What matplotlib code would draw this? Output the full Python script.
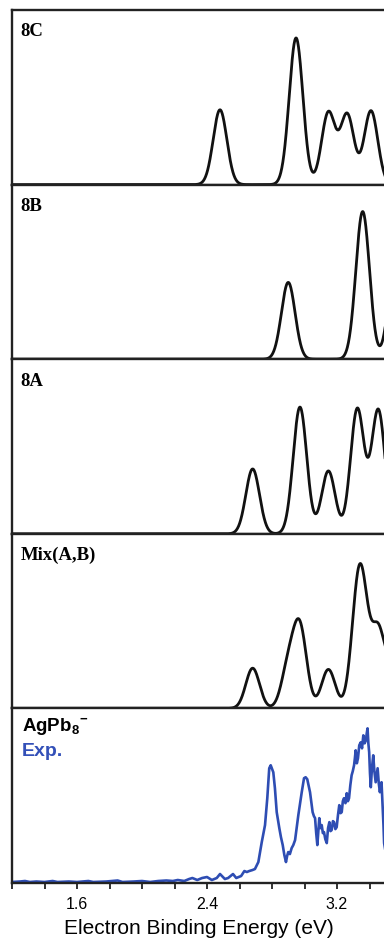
import numpy as np
import matplotlib.pyplot as plt
from matplotlib.ticker import MultipleLocator

plt.rcParams['mathtext.fontset'] = 'custom'
plt.rcParams['mathtext.rm'] = 'Liberation Sans'
plt.rcParams['mathtext.bf'] = 'Liberation Sans:bold'

# simulated spectra: stick positions (eV) and intensities, broadened with gaussians
sigma = 0.042

pos_8c = [2.480, 2.948, 3.147, 3.263, 3.409]
int_8c = [75, 147, 72, 70, 74]

pos_8b = [2.900, 3.358, 3.560]
int_8b = [77, 148, 100]

pos_8a = [2.681, 2.972, 3.147, 3.325, 3.454]
int_8a = [65, 127, 63, 125, 124]

# Mix(A,B) is a weighted sum of the 8A and 8B spectra
mix_weight_a = 0.62
mix_weight_b = 0.52

# experimental spectrum (traced)
exp_x = [1.20, 1.25, 1.28, 1.31, 1.35, 1.40, 1.45, 1.48, 1.55, 1.60, 1.67, 1.70,
         1.78, 1.85, 1.88, 1.95, 2.00, 2.05, 2.10, 2.15, 2.19, 2.22, 2.26, 2.29,
         2.31, 2.34, 2.37, 2.40, 2.43, 2.46, 2.48, 2.51, 2.53, 2.56, 2.58, 2.61,
         2.63, 2.645, 2.66, 2.68, 2.695, 2.716, 2.737, 2.757, 2.771, 2.783, 2.792,
         2.808, 2.818, 2.829, 2.845, 2.855, 2.866, 2.876, 2.886, 2.893, 2.900, 2.910,
         2.921, 2.931, 2.942, 2.962, 2.983, 2.997, 3.007, 3.017, 3.034, 3.050, 3.058,
         3.065, 3.072, 3.079, 3.085, 3.091, 3.098, 3.106, 3.113, 3.120, 3.128, 3.137,
         3.145, 3.153, 3.160, 3.167, 3.175, 3.182, 3.190, 3.198, 3.206, 3.214, 3.222,
         3.229, 3.236, 3.243, 3.252, 3.260, 3.267, 3.274, 3.282, 3.290, 3.297, 3.305,
         3.310, 3.315, 3.322, 3.329, 3.337, 3.346, 3.354, 3.362, 3.370, 3.378, 3.383,
         3.388, 3.393, 3.398, 3.403, 3.408, 3.415, 3.423, 3.430, 3.438, 3.444, 3.450,
         3.457, 3.464, 3.469, 3.474, 3.480, 3.486, 3.490, 3.500]
exp_y = [1, 1.5, 2, 1, 1.5, 1, 2, 1, 1.5, 1, 2, 1,
         1.5, 2.5, 1, 1.5, 2, 1, 2, 2.5, 2, 3, 2, 4,
         5, 3, 5, 6, 3, 5, 9, 4, 5, 9, 5, 7,
         12, 11, 12, 13, 14, 21, 41, 58, 85, 115, 118,
         111, 95, 71, 55, 46, 38, 28, 21, 27, 31, 29,
         35, 38, 43, 68, 91, 105, 106, 104, 91, 71, 67,
         65, 50, 38, 52, 65, 55, 58, 50, 51, 44, 40,
         55, 61, 52, 53, 62, 61, 54, 56, 68, 78, 70,
         71, 82, 85, 80, 90, 82, 85, 98, 108, 112, 118,
         125, 133, 120, 125, 138, 141, 135, 148, 140, 143, 150,
         155, 140, 131, 110, 96, 115, 128, 112, 101, 108, 115,
         100, 91, 98, 101, 80, 58, 40, 30]

ticks_major = [1.6, 2.4, 3.2]
panel_labels = ['8C', '8B', '8A', 'Mix(A,B)']


def broaden(x, pos, inten):
    y = np.zeros_like(x)
    for p, h in zip(pos, inten):
        y += h * np.exp(-(x - p) ** 2 / (2 * sigma ** 2))
    return y


def style_axis(ax):
    ax.set_xlim(1.2, 3.5)
    ax.set_ylim(0, 175)
    ax.set_yticks([])
    for s in ax.spines.values():
        s.set_color('#222222')
        s.set_linewidth(1.7)


def main():
    fig = plt.figure(figsize=(3.84, 9.41), dpi=100)
    left = 12 / 384
    width = 373.75 / 384
    top = 1 - 10 / 941
    h = (873 / 5) / 941

    x = np.linspace(1.2, 3.6, 1500)
    spec_a = broaden(x, pos_8a, int_8a)
    spec_b = broaden(x, pos_8b, int_8b)
    spectra = [broaden(x, pos_8c, int_8c), spec_b, spec_a,
               mix_weight_a * spec_a + mix_weight_b * spec_b]

    for i, y in enumerate(spectra):
        ax = fig.add_axes([left, top - (i + 1) * h, width, h])
        style_axis(ax)
        ax.plot(x, y, color='#111111', lw=2.0)
        ax.set_xticks([])
        ax.text(0.022, 0.875, panel_labels[i], transform=ax.transAxes,
                family='Liberation Serif', weight='bold', size=13.5, va='center')

    # experimental panel
    ax = fig.add_axes([left, top - 5 * h, width, h])
    style_axis(ax)
    ax.plot(exp_x, exp_y, color='#2e4db3', lw=1.9)
    ax.text(0.026, 0.89, r'$\mathbf{AgPb_8}^{\mathbf{-}}$', transform=ax.transAxes,
            size=13.5, va='center')
    ax.text(0.026, 0.755, 'Exp.', transform=ax.transAxes, color='#3350b8',
            family='Liberation Sans', weight='bold', size=14, va='center')
    ax.set_xticks(ticks_major)
    ax.xaxis.set_minor_locator(MultipleLocator(0.2))
    ax.tick_params(axis='x', which='both', direction='out', length=4, width=1.3,
                   color='#222222', labelsize=11.5, pad=6)
    for lbl in ax.get_xticklabels():
        lbl.set_family('Liberation Sans')
    ax.set_xlabel('Electron Binding Energy (eV)', family='Liberation Sans',
                  size=15, labelpad=5)

    fig.savefig('out.png', dpi=100)


if __name__ == "__main__":
    main()
